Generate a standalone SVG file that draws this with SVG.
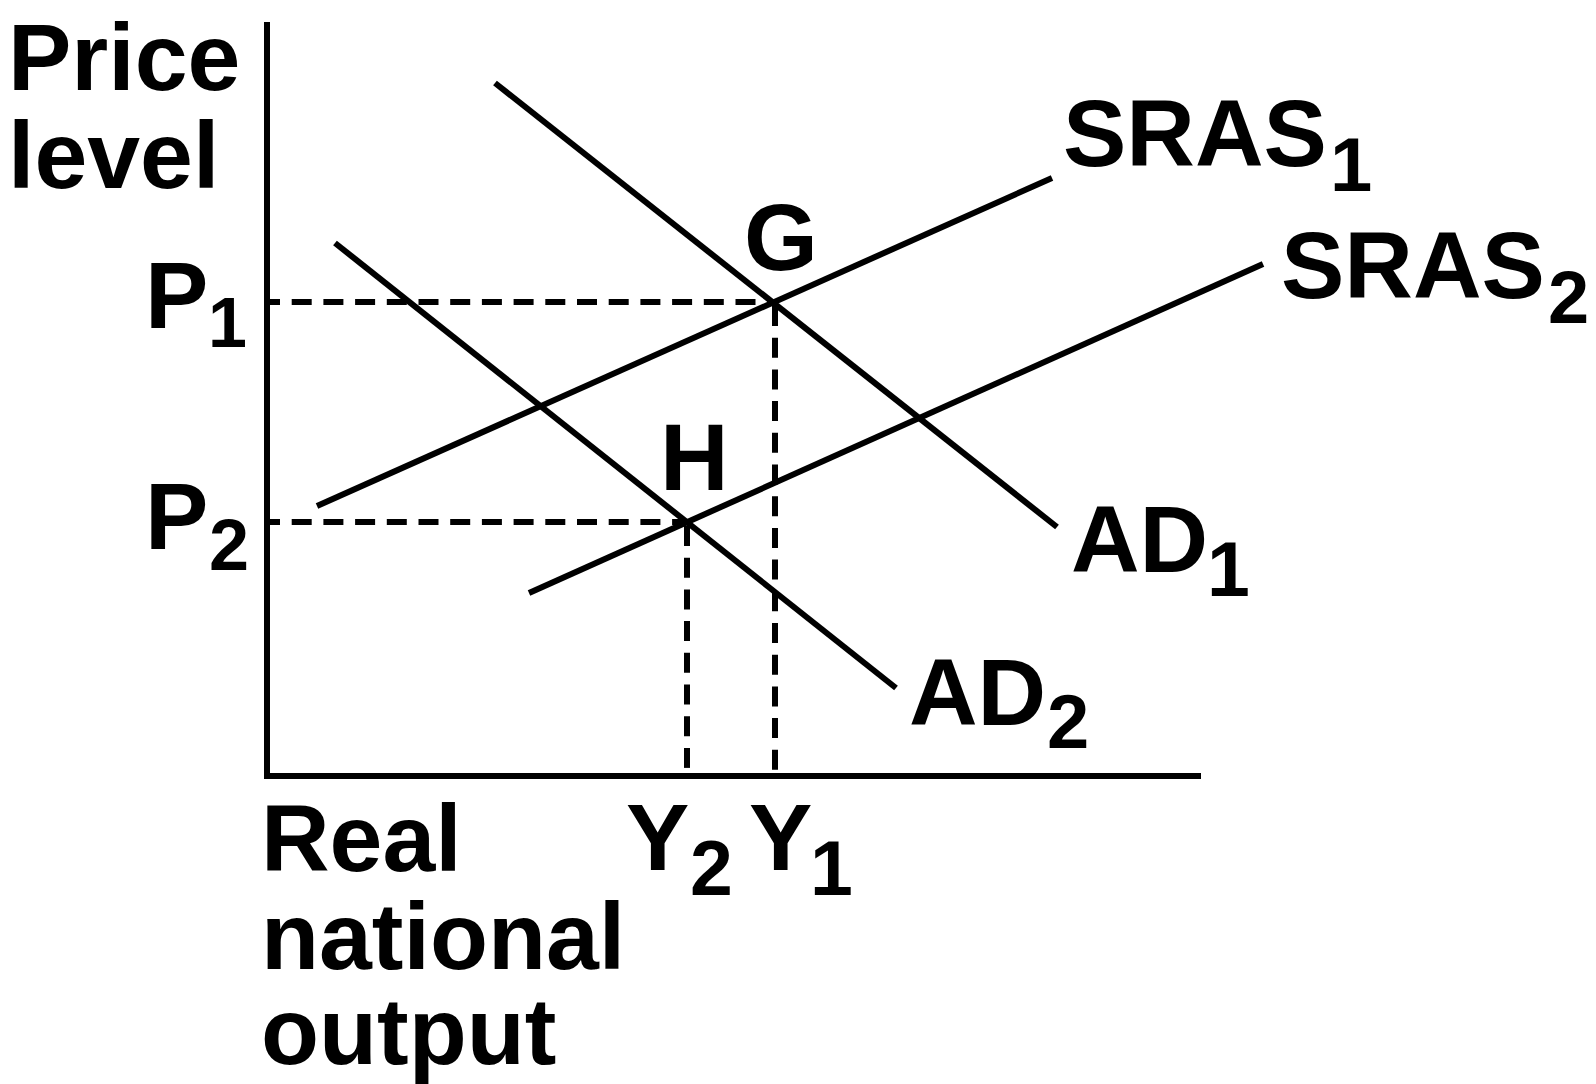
<svg xmlns="http://www.w3.org/2000/svg" width="1596" height="1084" viewBox="0 0 1596 1084">
<style>
  .t { font-family: "Liberation Sans", Arial, sans-serif; font-weight: bold; font-size: 95px; fill: #000; }
  .s { font-family: "Liberation Sans", Arial, sans-serif; font-weight: bold; fill: #000; }
  .ln { stroke: #000; stroke-width: 6; fill: none; stroke-linecap: butt; }
  .dash { stroke: #000; stroke-width: 6; fill: none; stroke-dasharray: 20 11.7; }
</style>
<rect x="0" y="0" width="1596" height="1084" fill="#fff"/>
<g id="axes">
  <path class="ln" d="M267,22 V776 H1201"/>
</g>
<g id="connectors">
  <line class="dash" x1="270" y1="302" x2="773" y2="302" stroke-dashoffset="10"/>
  <line class="dash" x1="270" y1="522" x2="687" y2="522" stroke-dashoffset="10"/>
  <line class="dash" x1="775" y1="306" x2="775" y2="773"/>
  <line class="dash" x1="687" y1="526" x2="687" y2="773"/>
  <line id="AD1-line" class="ln" x1="495" y1="83" x2="1057" y2="527"/>
  <line id="AD2-line" class="ln" x1="335" y1="243" x2="896" y2="688"/>
  <line id="SRAS1-line" class="ln" x1="317" y1="506" x2="1052" y2="178"/>
  <line id="SRAS2-line" class="ln" x1="529" y1="593" x2="1263" y2="264"/>
</g>
<g id="price-label">
  <text class="t"><tspan x="8" y="90">Price</tspan><tspan x="8" y="188">level</tspan></text>
</g>
<g id="output-label">
  <text class="t"><tspan x="261" y="871">Real</tspan><tspan x="261" y="969">national</tspan><tspan x="261" y="1064">output</tspan></text>
</g>
<g id="P1">
  <text class="t" x="145" y="328">P</text>
  <text class="s" x="208" y="347" font-size="70">1</text>
</g>
<g id="P2">
  <text class="t" x="145" y="549">P</text>
  <text class="s" x="209" y="570" font-size="72">2</text>
</g>
<g id="Y2">
  <text class="t" x="626" y="870">Y</text>
  <text class="s" x="690" y="895" font-size="77">2</text>
</g>
<g id="Y1">
  <text class="t" x="749" y="870">Y</text>
  <text class="s" x="810" y="895" font-size="77">1</text>
</g>
<g id="G">
  <text class="t" x="744" y="270">G</text>
</g>
<g id="H">
  <text class="t" x="660" y="490">H</text>
</g>
<g id="SRAS1">
  <text class="t" x="1063" y="166">SRAS</text>
  <text class="s" x="1330" y="191" font-size="76">1</text>
</g>
<g id="SRAS2">
  <text class="t" x="1281" y="298">SRAS</text>
  <text class="s" x="1548" y="323" font-size="74">2</text>
</g>
<g id="AD1">
  <text class="t" x="1071" y="572">AD</text>
  <text class="s" x="1207" y="596" font-size="77">1</text>
</g>
<g id="AD2">
  <text class="t" x="909" y="725">AD</text>
  <text class="s" x="1047" y="748" font-size="76">2</text>
</g>
</svg>
